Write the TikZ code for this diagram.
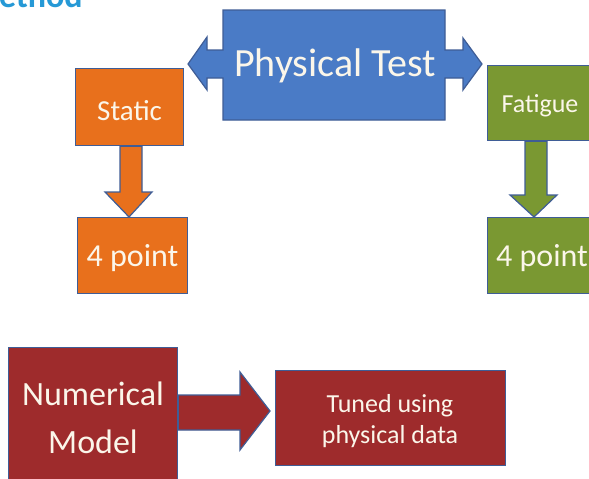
\documentclass[tikz,border=0pt]{standalone}
\usepackage{fontspec}
\setmainfont{Carlito}
\definecolor{ptblue}{HTML}{4A7BC6}
\definecolor{ptorange}{HTML}{E8701C}
\definecolor{ptgreen}{HTML}{7A9832}
\definecolor{ptred}{HTML}{9E2B2C}
\definecolor{ptline}{HTML}{3F5D96}
\definecolor{pttitle}{HTML}{2699D6}
\definecolor{pttext}{HTML}{FBF6EA}
\begin{document}
\begin{tikzpicture}[x=1pt,y=-1pt,
  shp/.style={draw=ptline,line width=1.2pt},
  lbl/.style={text=pttext,align=center,inner sep=0pt},
]
\useasboundingbox[fill=white] (0,0) rectangle (589,479);
\clip (0,0) rectangle (589,479);
% title
\node[anchor=base west,inner sep=0pt,text=pttitle,font=\bfseries\fontsize{34}{38}\selectfont] (title) at (-1,8) {ethod};
% Physical test left-right arrow callout
\draw[shp,fill=ptblue] (223,10) -- (445,10) -- (445,50) -- (463,50) -- (463,38) -- (482,64)
  -- (463,90) -- (463,78) -- (445,78) -- (445,120) -- (223,120) -- (223,78) -- (207,78)
  -- (207,90) -- (188,64) -- (207,37) -- (207,50) -- (223,50) -- cycle;
\node[lbl,font=\fontsize{40}{46}\selectfont] (pt) at (335,66) {Physical Test};
% Static branch
\node[shp,fill=ptorange,minimum width=108pt,minimum height=77pt,inner sep=0pt,anchor=north west] (st) at (75,68) {};
\node[lbl,font=\fontsize{29}{34}\selectfont] at (st.center) [yshift=-3pt] {Static};
\node[shp,fill=ptorange,minimum width=110pt,minimum height=76pt,inner sep=0pt,anchor=north west] (sp) at (77,217) {};
\node[lbl,font=\fontsize{32}{36}\selectfont] at (sp.center) [yshift=-2pt] {4 point};
\draw[shp,fill=ptorange] (st.south -| 120,0) -- (120,192) -- (105,192) -- (sp.north -| 129,0) -- (152,192) -- (142,192) -- (st.south -| 142,0) -- cycle;
% Fatigue branch
\node[shp,fill=ptgreen,minimum width=115pt,minimum height=75pt,inner sep=0pt,anchor=north west] (fa) at (487,65) {};
\node[lbl,font=\fontsize{26}{30}\selectfont,anchor=center] at (540,106) {Fatigue};
\node[shp,fill=ptgreen,minimum width=115pt,minimum height=76pt,inner sep=0pt,anchor=north west] (fp) at (487,217) {};
\node[lbl,font=\fontsize{32}{36}\selectfont,anchor=west] at (496,258) {4 point};
\draw[shp,fill=ptgreen] (fa.south -| 525,0) -- (525,195) -- (510,195) -- (fp.north -| 534,0) -- (557,195) -- (547,195) -- (fa.south -| 547,0) -- cycle;
% Numerical model
\node[shp,fill=ptred,minimum width=169pt,minimum height=145pt,inner sep=0pt,anchor=north west] (nm) at (8,347) {};
\node[lbl,font=\fontsize{34}{48}\selectfont,anchor=base] at (93,453) {Numerical\\Model};
\node[shp,fill=ptred,minimum width=230pt,minimum height=95pt,inner sep=0pt,anchor=north west] (tu) at (275,370) {};
\node[lbl,font=\fontsize{26}{31}\selectfont,anchor=base] at (390,443) {Tuned using\\physical data};
\draw[shp,fill=ptred] (nm.east |- 0,395) -- (240,395) -- (240,372) -- (270,411) -- (240,450) -- (240,430) -- (nm.east |- 0,430) -- cycle;
\end{tikzpicture}
\end{document}
